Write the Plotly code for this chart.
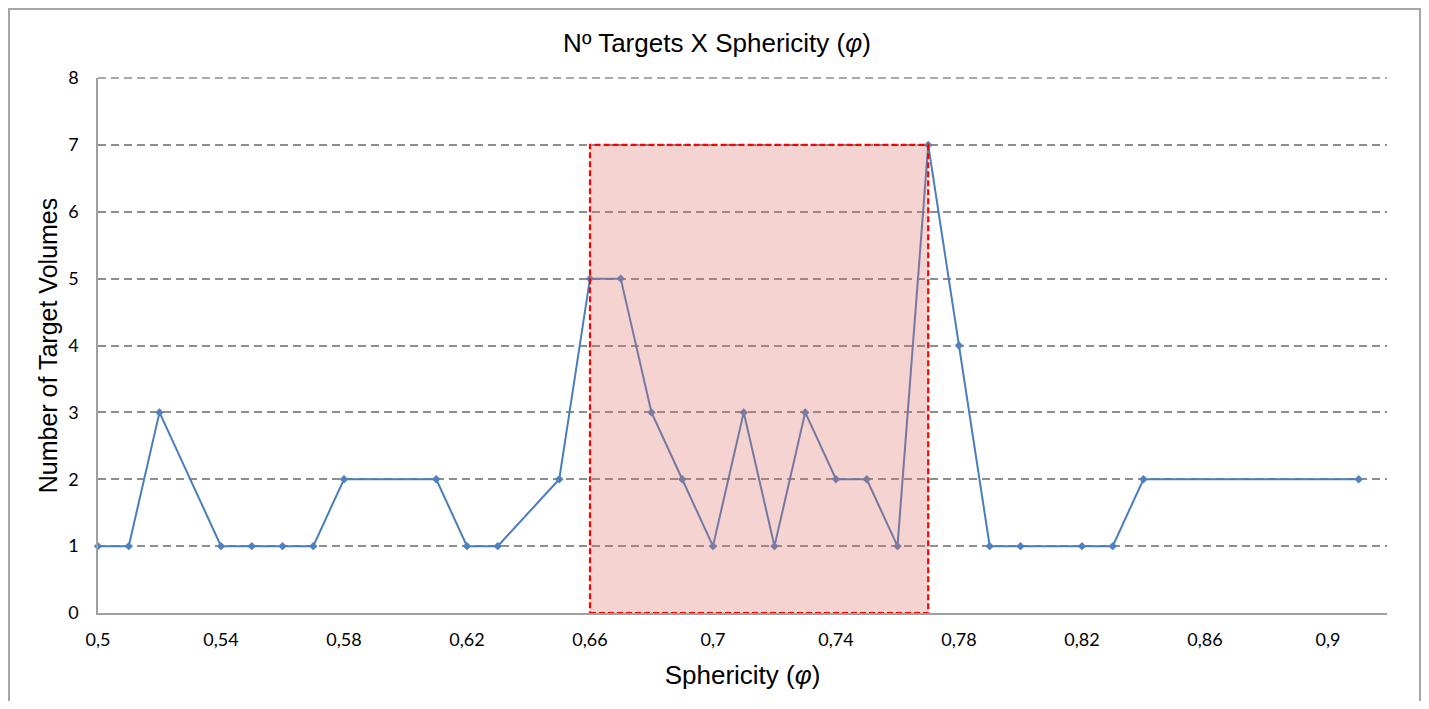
import plotly.graph_objects as go

sphericity = [0.50, 0.51, 0.52, 0.54, 0.55, 0.56, 0.57, 0.58, 0.61, 0.62, 0.63, 0.65,
              0.66, 0.67, 0.68, 0.69, 0.70, 0.71, 0.72, 0.73, 0.74, 0.75, 0.76, 0.77,
              0.78, 0.79, 0.80, 0.82, 0.83, 0.84, 0.91]
targets = [1, 1, 3, 1, 1, 1, 1, 2, 2, 1, 1, 2,
           5, 5, 3, 2, 1, 3, 1, 3, 2, 2, 1, 7,
           4, 1, 1, 1, 1, 2, 2]
x_ticks = [0.50, 0.54, 0.58, 0.62, 0.66, 0.70, 0.74, 0.78, 0.82, 0.86, 0.90]
x_tick_labels = ["0,5", "0,54", "0,58", "0,62", "0,66", "0,7", "0,74", "0,78", "0,82", "0,86", "0,9"]
y_ticks = [0, 1, 2, 3, 4, 5, 6, 7, 8]
highlight_x = [0.66, 0.77]
highlight_y = [0, 7]

OFF = 8  # page offset of the plot div (body margin)
W, H = 1429 - 2 * OFF, 709 - 2 * OFF
ml, mt = 98 - OFF, 78 - OFF
mr = (OFF + W) - 1387
mb = (OFF + H) - 613
pw, ph = W - ml - mr, H - mt - mb

GRID = "#8E8E8E"

fig = go.Figure()
fig.add_trace(go.Scatter(
    x=sphericity, y=targets, mode="lines+markers",
    line=dict(color="#4A7EBB", width=2),
    marker=dict(symbol="diamond", size=6.5, color="#4F81BD"),
    showlegend=False, cliponaxis=False,
))

fig.add_shape(type="rect", xref="x", yref="y",
              x0=highlight_x[0], x1=highlight_x[1], y0=highlight_y[0], y1=highlight_y[1],
              fillcolor="rgba(220,110,100,0.3)",
              line=dict(color="#FF0000", width=2.2, dash="6px,3px"),
              layer="above")

# top gridline at the top of the y range (paper-referenced so it is not clipped)
fig.add_shape(type="line", xref="paper", yref="paper", x0=0, x1=1, y0=1, y1=1,
              line=dict(color=GRID, width=1.6, dash="8px,5px"), layer="below")

# outer frame: left at window x=8, top at window y=8, right at right edge of figure
fx0 = (1 - ml) / pw
fx1 = (W - 1 - ml) / pw
fy1 = (H - mb - 1) / ph
fig.add_shape(type="path", xref="paper", yref="paper",
              path=f"M {fx0} -0.3 L {fx0} {fy1} L {fx1} {fy1} L {fx1} -0.3",
              line=dict(color="#A6A6A6", width=2), layer="below")

fig.update_layout(
    width=W, height=H, autosize=False,
    margin=dict(l=ml, r=mr, t=mt, b=mb),
    paper_bgcolor="white", plot_bgcolor="white",
    title=dict(text="Nº Targets X Sphericity (<i>φ</i>)", x=(717 - OFF) / W, xanchor="center",
               y=1 - (43 - OFF) / H, yanchor="middle",
               font=dict(family="Liberation Sans, Arial, sans-serif", size=26, color="#000")),
    xaxis=dict(range=[0.5, 0.9192], tickvals=x_ticks, ticktext=x_tick_labels,
               showgrid=False, zeroline=False, showline=True, linecolor="#A0A0A0", linewidth=1.5,
               ticks="", tickfont=dict(family="Lato, Open Sans, sans-serif", size=18, color="#000"),
               ticklabelstandoff=10,
               title=dict(text="Sphericity (<i>φ</i>)", standoff=16,
                          font=dict(family="Liberation Sans, Arial, sans-serif", size=26, color="#000"))),
    yaxis=dict(range=[0, 8], tickvals=y_ticks, showgrid=True, gridcolor=GRID, griddash="8px,5px",
               gridwidth=1.6, zeroline=False, showline=True, linecolor="#A0A0A0", linewidth=1.5,
               ticks="", tickfont=dict(family="Lato, Open Sans, sans-serif", size=18, color="#000"),
               ticklabelstandoff=14,
               title=dict(text="Number of Target Volumes", standoff=3,
                          font=dict(family="Liberation Sans, Arial, sans-serif", size=25, color="#000"))),
)

fig.write_html("out.html")
